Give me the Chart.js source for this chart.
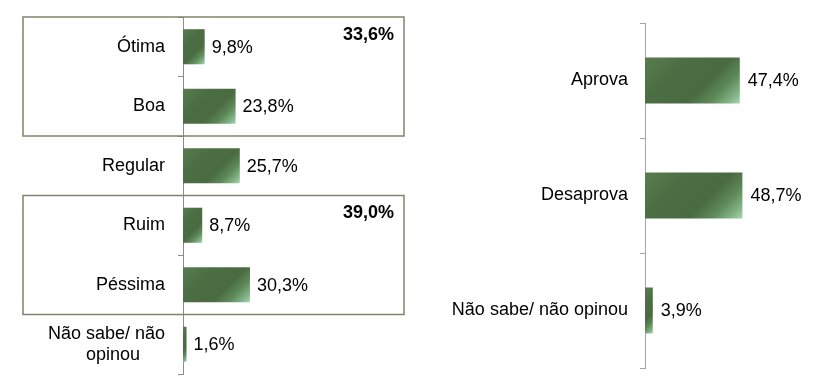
<!DOCTYPE html>
<html><head><meta charset="utf-8">
<script src="https://cdn.jsdelivr.net/npm/chart.js@4/dist/chart.umd.min.js"></script>
<style>
html,body{margin:0;padding:0;background:#fff;overflow:hidden;width:839px;height:383px}
#c1{position:absolute;left:0;top:0}
#c2{position:absolute;left:420px;top:0}
</style></head><body>
<canvas id="c1" width="420" height="383"></canvas>
<canvas id="c2" width="419" height="383"></canvas>
<script>
// ---- data ----
const ratingLabels = ['Ótima', 'Boa', 'Regular', 'Ruim', 'Péssima', ['Não sabe/ não', 'opinou     ']];
const ratingValues = [9.8, 23.8, 25.7, 8.7, 30.3, 1.6];
const groupFirst = [0, 3];
const groupLast = [1, 4];
const groupTotals = ['33,6%', '39,0%'];
const approvalLabels = ['Aprova', 'Desaprova', 'Não sabe/ não opinou'];
const approvalValues = [47.4, 48.7, 3.9];

const FONT = '"Liberation Sans", Arial, Helvetica, sans-serif';
Chart.defaults.font.family = FONT;
Chart.defaults.font.size = 18;
Chart.defaults.color = '#000';

function barGradient(barPct) {
  return function (c) {
    const chart = c.chart;
    const xs = chart.scales.x, ys = chart.scales.y;
    if (!xs || !ys || !chart.chartArea) return '#4b6c43';
    const v = c.raw, i = c.dataIndex;
    const x0 = xs.getPixelForValue(0), x1 = xs.getPixelForValue(v);
    const band = (ys.bottom - ys.top) / chart.data.labels.length;
    const yc = ys.getPixelForValue(i);
    const h = band * barPct;
    const top = yc - h / 2;
    const w = Math.max(x1 - x0, 1);
    const d = (w + h) / 2;
    // 45 degree gradient from the top-left corner to the bottom-right corner
    const g = chart.ctx.createLinearGradient(x0, top, x0 + d, top + d);
    g.addColorStop(0, '#587c4f');
    g.addColorStop(0.3, '#4c6e44');
    g.addColorStop(0.62, '#4a6b42');
    g.addColorStop(0.78, '#5e8a58');
    g.addColorStop(0.92, '#86b88c');
    g.addColorStop(1, '#a8d8b0');
    return g;
  };
}

const valueLabels = {
  id: 'valueLabels',
  afterDatasetsDraw(chart, args, opts) {
    const ctx = chart.ctx;
    const meta = chart.getDatasetMeta(0);
    const data = chart.data.datasets[0].data;
    ctx.save();
    ctx.font = '18px ' + FONT;
    ctx.fillStyle = '#000';
    ctx.textAlign = 'left';
    ctx.textBaseline = 'middle';
    meta.data.forEach((el, i) => {
      ctx.fillText(data[i].toFixed(1).replace('.', ',') + '%', el.x + opts.gap, el.y + 1);
    });
    ctx.restore();
  }
};

const groupBoxes = {
  id: 'groupBoxes',
  afterDraw(chart, args, opts) {
    const ctx = chart.ctx, ys = chart.scales.y, ca = chart.chartArea;
    const band = (ys.bottom - ys.top) / chart.data.labels.length;
    ctx.save();
    ctx.strokeStyle = opts.color;
    ctx.lineWidth = 1.5;
    groupFirst.forEach((f, k) => {
      const top = ys.getPixelForValue(f) - band / 2;
      const bottom = ys.getPixelForValue(groupLast[k]) + band / 2;
      ctx.strokeRect(opts.left, top, ca.right - opts.left, bottom - top);
      ctx.font = 'bold 18px ' + FONT;
      ctx.fillStyle = '#000';
      ctx.textAlign = 'right';
      ctx.textBaseline = 'middle';
      ctx.fillText(groupTotals[k], ca.right - 10, top + 18);
    });
    ctx.restore();
  }
};

function makeChart(id, labels, values, cfg) {
  return new Chart(document.getElementById(id), {
    type: 'bar',
    data: {
      labels: labels,
      datasets: [{
        data: values,
        backgroundColor: barGradient(cfg.barPct),
        borderWidth: 0,
        barPercentage: cfg.barPct,
        categoryPercentage: 1
      }]
    },
    options: {
      indexAxis: 'y',
      responsive: false,
      animation: false,
      events: [],
      layout: { padding: cfg.padding },
      plugins: {
        legend: { display: false },
        tooltip: { enabled: false },
        valueLabels: { gap: cfg.gap },
        groupBoxes: { color: '#80856a', left: 23 }
      },
      scales: {
        x: { display: false, min: 0, max: cfg.max },
        y: {
          grid: { drawOnChartArea: false, tickLength: 5, color: cfg.axisColor, offset: true, lineWidth: 1 },
          border: { color: cfg.axisColor, width: 1 },
          ticks: { color: '#000', padding: cfg.tickPad, autoSkip: false, font: { size: 18, lineHeight: 1.15 } },
          afterFit(s) { s.width = cfg.axisWidth; s.paddingTop = 0; s.paddingBottom = 0; }
        }
      }
    },
    plugins: cfg.plugins
  });
}

makeChart('c1', ratingLabels, ratingValues, {
  padding: { top: 17, bottom: 9, right: 16, left: 0 },
  axisWidth: 183, tickPad: 13, max: 100, barPct: 0.59, gap: 7,
  axisColor: '#8c8c8c', plugins: [valueLabels, groupBoxes]
});

makeChart('c2', approvalLabels, approvalValues, {
  padding: { top: 23, bottom: 15, right: 4, left: 0 },
  axisWidth: 225, tickPad: 12, max: 95, barPct: 0.4, gap: 8,
  axisColor: '#a6a6a6', plugins: [valueLabels]
});
</script>
</body></html>
